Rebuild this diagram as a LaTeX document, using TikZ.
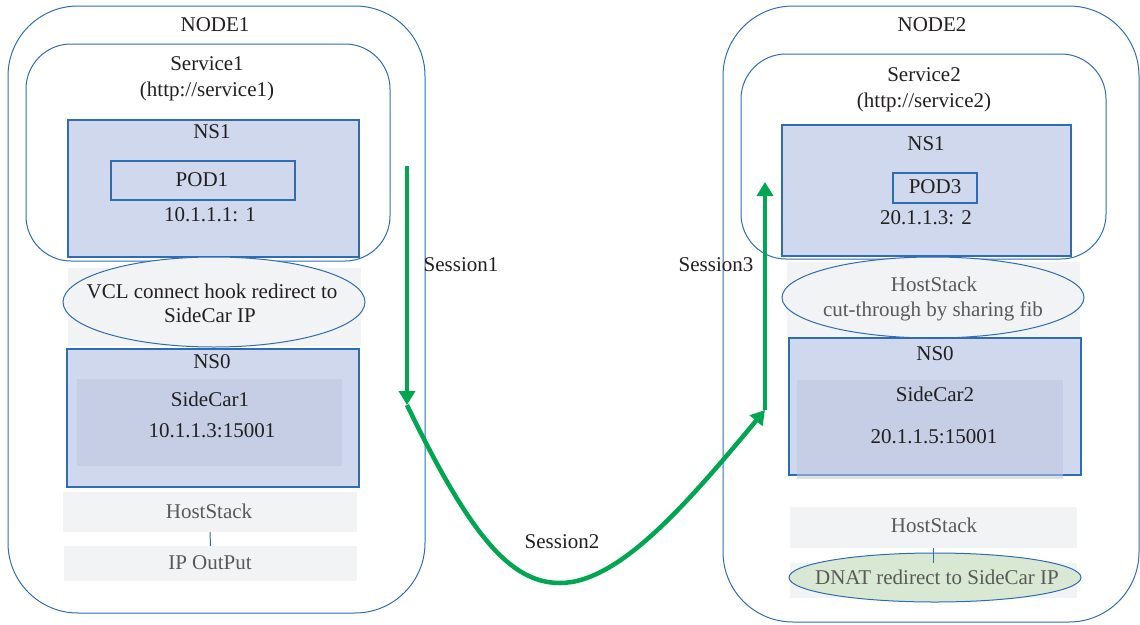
\documentclass[tikz,border=0pt]{standalone}
\usepackage{fontspec}
\setmainfont{Liberation Serif}
\usetikzlibrary{shapes.geometric,arrows.meta}
\definecolor{edge}{RGB}{46,109,180}
\definecolor{nsfill}{RGB}{207,216,236}
\definecolor{carfill}{RGB}{190,199,222}
\definecolor{band}{RGB}{242,243,245}
\definecolor{dnatfill}{RGB}{217,232,211}
\definecolor{flow}{RGB}{0,166,80}
\definecolor{muted}{RGB}{89,89,89}
\definecolor{ink}{RGB}{35,31,32}

\begin{document}
\begin{tikzpicture}[x=1pt,y=-1pt,font=\fontsize{21}{24}\selectfont,
  box/.style={anchor=north west,inner sep=0pt,outer sep=0pt},
  hostbox/.style={box,draw=edge,line width=1pt,rounded corners=70pt},
  svcbox/.style={box,draw=edge,line width=1pt,rounded corners=45pt},
  nsbox/.style={box,draw=edge,line width=1.5pt,fill=nsfill},
  podbox/.style={box,draw=edge,line width=1.5pt},
  carbox/.style={box,fill=carfill,fill opacity=0.55},
  bandbox/.style={box,fill=band},
  oval/.style={ellipse,draw=edge,line width=1pt,fill=band,inner sep=0pt,outer sep=0pt},
  txt/.style={anchor=base,inner sep=0pt,text=ink},
  dim/.style={txt,text=muted},
  link/.style={draw=edge,line width=1pt},
  flowline/.style={draw=flow,line width=4.5pt,-{Triangle[width=16pt,length=14pt]}}
]
\useasboundingbox (0,0) rectangle (1140,624);

% ---------------- NODE1 ----------------
\node[hostbox,minimum width=417pt,minimum height=607pt] (node1) at (8,6) {};
\node[svcbox,minimum width=364pt,minimum height=217pt] (svc1) at (26,44) {};
\node[nsbox,minimum width=291pt,minimum height=137pt] (ns1a) at (68,120) {};
\node[podbox,minimum width=184pt,minimum height=39pt] (pod1) at (111,161) {};
\node[bandbox,minimum width=293pt,minimum height=78pt] (vclband) at (68,268) {};
\node[oval,minimum width=302pt,minimum height=90pt] (vcl) at (214,302) {};
\node[nsbox,minimum width=292pt,minimum height=138pt] (ns0a) at (67,349) {};
\node[carbox,minimum width=265pt,minimum height=87pt] (car1) at (77,379) {};
\node[bandbox,minimum width=294pt,minimum height=40pt] (hs1) at (63,492) {};
\node[bandbox,minimum width=293pt,minimum height=35pt] (ip1) at (64,546) {};
\draw[link] (hs1.south) -- (ip1.north);

\node[txt] (t-node1) at (215,31) {NODE1};
\node[txt] (t-svc1) at (207,70) {Service1};
\node[txt] (t-url1) at (207,96) {(http://service1)};
\node[txt] (t-ns1a) at (212,138) {NS1};
\node[txt] (t-pod1) at (202,186) {POD1};
\node[txt] (t-ip-pod1) at (210,221) {10.1.1.1: 1};
\node[txt] (t-vcl1) at (212,298) {VCL connect hook redirect to};
\node[txt] (t-vcl2) at (210,322) {SideCar IP};
\node[txt] (t-ns0a) at (212,368) {NS0};
\node[txt] (t-car1) at (210,406) {SideCar1};
\node[txt] (t-ip-car1) at (212,437) {10.1.1.3:15001};
\node[dim] (t-hs1) at (209,518) {HostStack};
\node[dim] (t-ip1) at (210,569) {IP OutPut};

% ---------------- NODE2 ----------------
\node[hostbox,minimum width=416pt,minimum height=616pt] (node2) at (723,6) {};
\node[svcbox,minimum width=365pt,minimum height=205pt] (svc2) at (741,54) {};
\node[nsbox,minimum width=289pt,minimum height=131pt] (ns1b) at (782,125) {};
\node[podbox,minimum width=84pt,minimum height=30pt] (pod3) at (893,173) {};
\node[bandbox,minimum width=293pt,minimum height=75pt] (hsband2) at (787,262) {};
\node[oval,minimum width=302pt,minimum height=81pt] (cut) at (933,297.5) {};
\node[nsbox,minimum width=292pt,minimum height=137pt] (ns0b) at (789,338) {};
\node[carbox,minimum width=266pt,minimum height=99pt] (car2) at (797,380) {};
\node[bandbox,minimum width=287pt,minimum height=41pt] (hs2) at (790,507) {};
\node[bandbox,minimum width=287pt,minimum height=35pt] (dnatband) at (790,563) {};
\node[oval,fill=dnatfill,minimum width=292pt,minimum height=49pt] (dnat) at (935,577.5) {};
\draw[link] (hs2.south) -- (dnatband.north);

\node[txt] (t-node2) at (932,31) {NODE2};
\node[txt] (t-svc2) at (924,81) {Service2};
\node[txt] (t-url2) at (924,107) {(http://service2)};
\node[txt] (t-ns1b) at (926,150) {NS1};
\node[txt] (t-pod3) at (935,193) {POD3};
\node[txt] (t-ip-pod3) at (926,224) {20.1.1.3: 2};
\node[dim] (t-cut1) at (934,291) {HostStack};
\node[dim] (t-cut2) at (933,316) {cut-through by sharing fib};
\node[txt] (t-ns0b) at (935,360) {NS0};
\node[txt] (t-car2) at (935,401) {SideCar2};
\node[txt] (t-ip-car2) at (934,443) {20.1.1.5:15001};
\node[dim] (t-hs2) at (934,532) {HostStack};
\node[dim] (t-dnat) at (937,584) {DNAT redirect to SideCar IP};

% ---------------- sessions ----------------
\coordinate (s1top) at (407,166);
\coordinate (s1end) at (407,405);
\coordinate (s2low) at (560,583);
\coordinate (s3foot) at (765,410);
\coordinate (s3top) at (765,182);

\draw[flowline] (s1top) -- (s1end);
\draw[flowline] (s1end) .. controls (470,535) and (510,583) .. (s2low)
  .. controls (620,583) and (690,500) .. (s3foot);
\draw[flowline] (s3foot) -- (s3top);

\node[txt] (t-sess1) at (461,271) {Session1};
\node[txt] (t-sess2) at (562,548) {Session2};
\node[txt] (t-sess3) at (716,271) {Session3};
\end{tikzpicture}
\end{document}
